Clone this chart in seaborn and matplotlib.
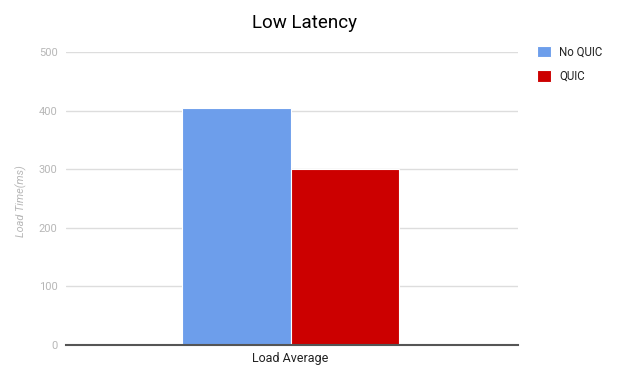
import matplotlib
matplotlib.use("Agg")
import matplotlib.pyplot as plt
import seaborn as sns
import pandas as pd

categories = ["Load Average"]
series = ["No QUIC", "QUIC"]
values_no_quic = [404]
values_quic = [301]
colors = ["#6d9eeb", "#cc0000"]
yticks = [0, 100, 200, 300, 400, 500]

df = pd.DataFrame({
    "category": categories * 2,
    "series": [series[0]] * len(categories) + [series[1]] * len(categories),
    "value": values_no_quic + values_quic,
})

sns.set_style("white")
plt.rcParams['font.family'] = ['Roboto', 'DejaVu Sans']

fig = plt.figure(figsize=(6.41, 3.82), dpi=100)
ax = fig.add_axes([66/641, 37/382, 452/641, 293/382])

sns.barplot(data=df, x="category", y="value", hue="series", palette=colors,
            width=0.48, edgecolor="white", linewidth=0.8, ax=ax, saturation=1)

ax.set_xlim(-0.497, 0.503)
ax.set_ylim(0, 500)
ax.set_yticks(yticks)
ax.set_yticklabels([str(t) for t in yticks], color="#b7b7b7", fontsize=8)
ax.tick_params(axis='y', length=0, pad=6)
ax.tick_params(axis='x', length=0, pad=5, labelsize=9, labelcolor="#222222")
ax.yaxis.grid(True, color="#dddddd", linewidth=1)
ax.set_axisbelow(True)
for s in ["top", "right", "left"]:
    ax.spines[s].set_visible(False)
ax.spines["bottom"].set_color("#555555")
ax.spines["bottom"].set_linewidth(1.5)
ax.set_xlabel("")
ax.set_ylabel("Load Time(ms)", color="#b7b7b7", fontsize=7.8, style="italic")
ax.yaxis.set_label_coords(27/641, (382 - 201) / 382, transform=fig.transFigure)

fig.text(305/641, 1 - 23/382, "Low Latency", fontsize=13.5, color="#000000",
         ha="center", va="center")

handles, labels = ax.get_legend_handles_labels()
leg = ax.legend(handles, labels, loc="upper left", bbox_to_anchor=(527/641, 1 - 35/382),
                bbox_transform=fig.transFigure, frameon=False, fontsize=8.3,
                handlelength=1.2, handleheight=1.2, handletextpad=0.7, labelspacing=1.0,
                labelcolor="#222222")
fig.savefig("out.png", dpi=100)
